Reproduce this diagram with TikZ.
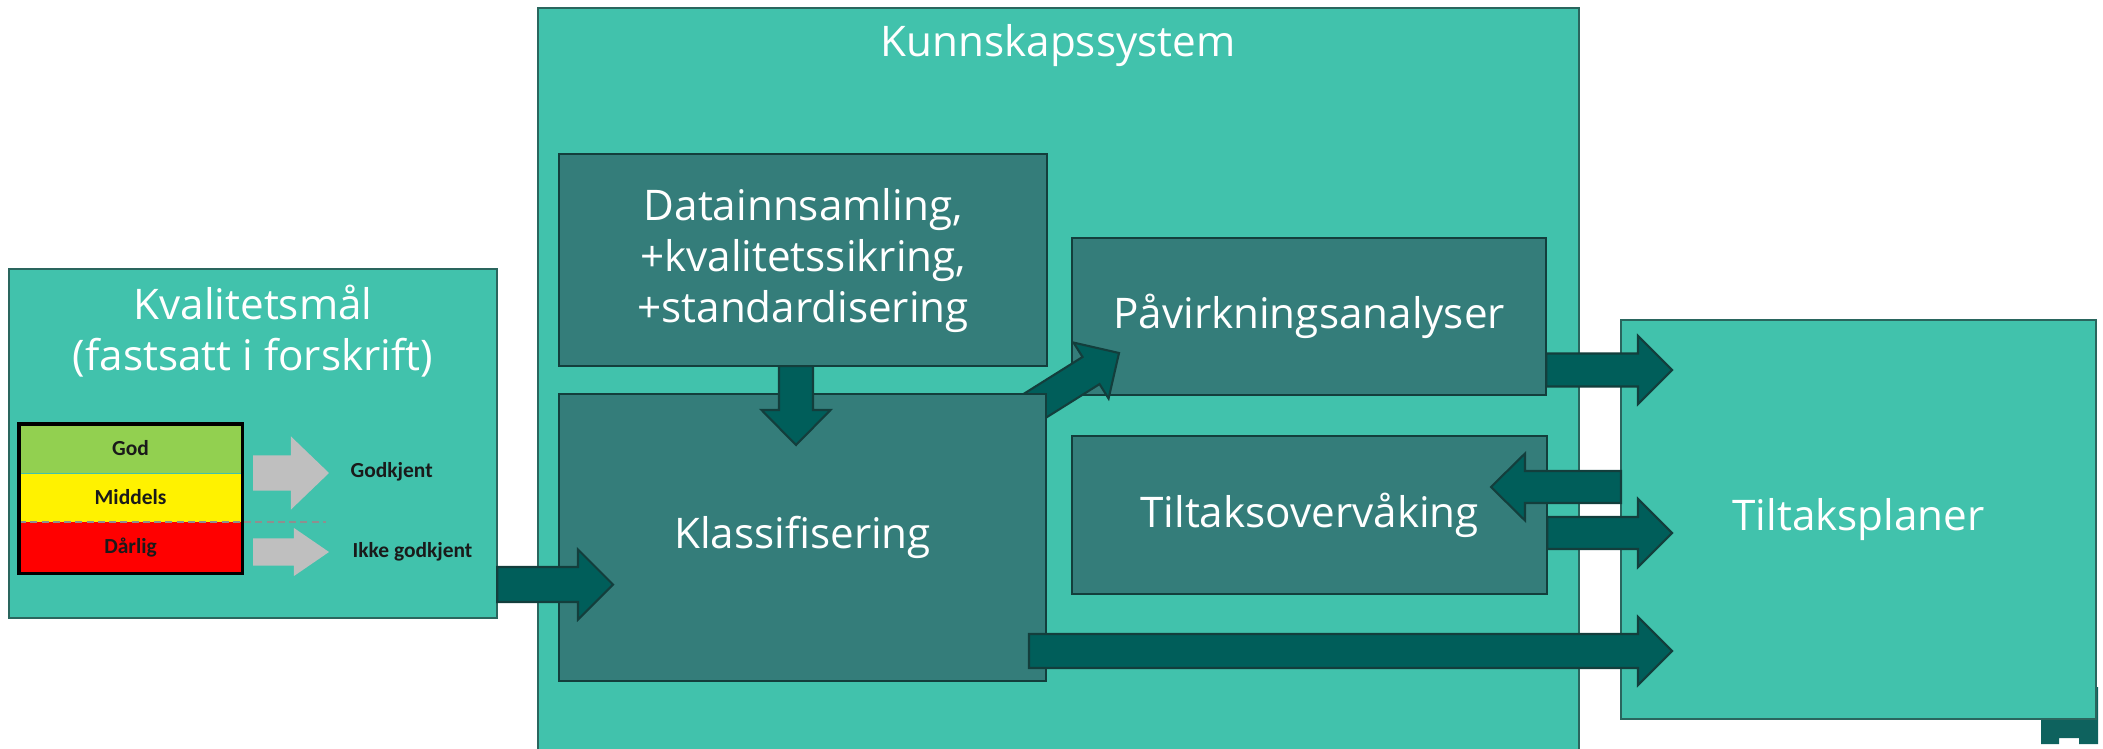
\documentclass[tikz,border=0pt]{standalone}
\usepackage{fontspec}
\setmainfont{Open Sans}
\newfontfamily\tabfont{Carlito}
\usepackage{tikz}
\usetikzlibrary{calc, positioning}

\definecolor{panelteal}{HTML}{41C2AC}
\definecolor{stageteal}{HTML}{347D7A}
\definecolor{flowteal}{HTML}{005E5A}
\definecolor{edgeteal}{HTML}{133E3C}
\definecolor{paneledge}{HTML}{2A665E}
\definecolor{godgreen}{HTML}{92D050}
\definecolor{flowgrey}{HTML}{BFBFBF}
\definecolor{ratingtext}{HTML}{1A1A1A}
\definecolor{tabteal}{HTML}{0E625E}

\newcommand{\blockarrow}[6][flow]{%
  \coordinate (ba) at ($(#3)!#6!(#2)$);
  \draw[#1] ($(#2)!#4!90:(#3)$) -- ($(ba)!#4!-90:(#2)$) -- ($(ba)!#5!-90:(#2)$) -- (#3)
    -- ($(ba)!#5!90:(#2)$) -- ($(ba)!#4!90:(#2)$) -- ($(#2)!#4!-90:(#3)$) -- cycle;}

\begin{document}
\begin{tikzpicture}[x=0.01cm, y=-0.01cm,
    panel/.style={rectangle, draw=paneledge, line width=0.6pt, fill=panelteal, inner sep=0pt, outer sep=0pt, anchor=north west, text=white, font=\fontsize{12}{14.5}\selectfont},
    stage/.style={panel, draw=edgeteal, fill=stageteal, align=center},
    caption/.style={text=white, inner sep=0pt, font=\fontsize{12}{14.5}\selectfont, align=center},
    flow/.style={draw=edgeteal, line width=0.6pt, fill=flowteal},
    greyflow/.style={draw=none, fill=flowgrey},
    rating/.style={rectangle, inner sep=0pt, outer sep=0pt, minimum width=2.23cm, minimum height=0.49cm, text=ratingtext, font=\tabfont\bfseries\fontsize{6.1}{7}\selectfont},
    verdict/.style={anchor=west, inner sep=0pt, text=ratingtext, font=\tabfont\bfseries\fontsize{6.1}{7}\selectfont}]
  \useasboundingbox (0,0) rectangle (2103,749);

  \node[panel, minimum width=4.88cm, minimum height=3.49cm] (kval) at (9,269) {};
  \node[caption] (kvaltitle) at (253,331) {Kvalitetsmål\\(fastsatt i forskrift)};
  \node[rating, fill=godgreen, anchor=north west] (god) at (19,424) {God};
  \node[rating, fill=yellow, below=0pt of god] (middels) {Middels};
  \node[rating, fill=red, minimum height=0.51cm, below=0pt of middels] (darlig) {Dårlig};
  \draw[panelteal, line width=0.3pt] (god.south west) -- (god.south east);
  \draw[flowgrey!75!black, line width=0.6pt, dash pattern=on 2pt off 1.2pt] (middels.south west) -- ++(307,0);
  \draw[line width=0.9pt] (god.north west) rectangle (darlig.south east);
  \node[verdict] (godkjent) at (350,472) {Godkjent};
  \node[verdict] (ikkegodkjent) at (352,552) {Ikke godkjent};
  \coordinate (g1) at (253,473); \coordinate (g1tip) at (329,473);
  \coordinate (g2) at (253,552); \coordinate (g2tip) at (329,552);
  \blockarrow[greyflow]{g1}{g1tip}{.175cm}{.365cm}{.38cm}
  \blockarrow[greyflow]{g2}{g2tip}{.135cm}{.24cm}{.35cm}

  \node[panel, minimum width=10.40cm, minimum height=8cm] (kunn) at (538,8) {};
  \node[caption, anchor=base] (kunntitle) at (1058,57) {Kunnskapssystem};
  \node[stage, minimum width=4.88cm, minimum height=2.12cm] (data) at (559,154) {Datainnsamling,\\+kvalitetssikring,\\+standardisering};
  \node[stage, minimum width=4.74cm, minimum height=1.57cm] (pavirk) at (1072,238) {Påvirkningsanalyser};
  \node[stage, minimum width=4.75cm, minimum height=1.58cm, below=0.41cm of pavirk.south west, anchor=north west] (overv) {Tiltaksovervåking};

  \fill[tabteal] (2041,720) -- (2041,744) -- (2059,744) -- (2059,738) -- (2079,738) -- (2079,744)
    -- (2098,744) -- (2098,687) -- (2095,687) -- (2095,720) -- cycle;
  \node[panel, minimum width=4.75cm, minimum height=3.99cm] (plan) at (1621,320) {Tiltaksplaner};

  \coordinate (diagfrom) at (1009,422); \coordinate (diagtip) at (1119,353);
  \blockarrow{diagfrom}{diagtip}{.16cm}{.33cm}{.33cm}
  \node[stage, minimum width=4.87cm, minimum height=2.87cm, below=0.28cm of data.south west, anchor=north west] (klass) {Klassifisering};

  \coordinate (klasstip) at (613,584.5);
  \blockarrow{kval.east |- klasstip}{klasstip}{.175cm}{.35cm}{.35cm}
  \coordinate (downtip) at (796,445);
  \blockarrow{data.south -| downtip}{downtip}{.17cm}{.345cm}{.35cm}
  \coordinate (plantip1) at (1672,370);
  \blockarrow{pavirk.east |- plantip1}{plantip1}{.165cm}{.34cm}{.34cm}
  \coordinate (overvtip) at (1491,487);
  \blockarrow{plan.west |- overvtip}{overvtip}{.16cm}{.335cm}{.34cm}
  \coordinate (plantip2) at (1672,533);
  \blockarrow{overv.east |- plantip2}{plantip2}{.16cm}{.34cm}{.34cm}
  \coordinate (klassfrom) at (1029,651); \coordinate (plantip3) at (1672,651);
  \blockarrow{klassfrom}{plantip3}{.17cm}{.34cm}{.34cm}
\end{tikzpicture}
\end{document}
